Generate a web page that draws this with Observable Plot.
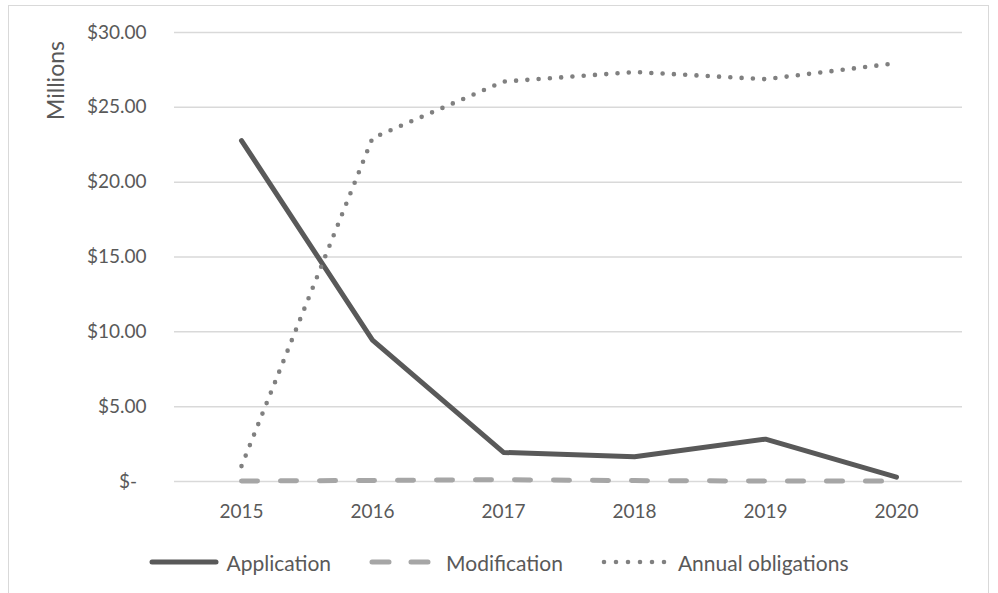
<!DOCTYPE html>
<html>
<head>
<meta charset="utf-8">
<script src="https://cdn.jsdelivr.net/npm/d3@7"></script>
<script src="https://cdn.jsdelivr.net/npm/@observablehq/plot@0.6"></script>
<style>
  html, body { margin: 0; padding: 0; background: #fff; }
  #wrap { position: relative; width: 998px; height: 593px; overflow: hidden; font-family: Lato, "Open Sans", sans-serif; }
  #frame { position: absolute; left: 8px; top: 5px; width: 981px; height: 620px; border: 1px solid #d9d9d9; box-sizing: border-box; }
  #chart { position: absolute; left: 0; top: 0; }
  #legend { position: absolute; left: 0; top: 548px; width: 998px; height: 28px; display: flex; justify-content: center; align-items: center; font-size: 21px; color: #595959; }
  .item { display: flex; align-items: center; margin: 0 19px; }
  .item svg { margin-right: 7px; }
</style>
</head>
<body>
<div id="wrap">
  <div id="frame"></div>
  <div id="chart"></div>
  <div id="legend"></div>
</div>
<script>
// Program spending by year, in millions of dollars
const years = ["2015", "2016", "2017", "2018", "2019", "2020"];
const application = [22.78, 9.45, 1.94, 1.65, 2.83, 0.29];
const modification = [0.03, 0.07, 0.12, 0.06, 0.03, 0.03];
const annualObligations = [1.03, 22.95, 26.72, 27.36, 26.88, 27.95];
const yTicks = [0, 5, 10, 15, 20, 25, 30];
const seriesNames = ["Application", "Modification", "Annual obligations"];

const rows = years.map((year, i) => ({
  year,
  application: application[i],
  modification: modification[i],
  annualObligations: annualObligations[i]
}));

const money = v => v === 0 ? "$-\u2002" : "$" + d3.format(".2f")(v);
const ink = "#595959";

const chart = Plot.plot({
  width: 998,
  height: 530,
  marginLeft: 174,
  marginRight: 36,
  marginTop: 32,
  marginBottom: 49,
  style: { fontFamily: "Lato, 'Open Sans', sans-serif", fontSize: "19px", color: ink, background: "transparent" },
  x: { type: "point", domain: years, padding: 0.5, label: null },
  y: { domain: [0, 30], label: null },
  marks: [
    Plot.gridY(yTicks, { stroke: "#d9d9d9", strokeOpacity: 1, strokeWidth: 1.5 }),
    Plot.axisY(yTicks, { tickSize: 0, tickPadding: 28, tickFormat: money, fill: ink, fontSize: 19 }),
    Plot.axisX({ tickSize: 0, tickPadding: 23, fill: ink, fontSize: 19 }),
    Plot.text(["Millions"], {
      frameAnchor: "top-left", dx: -118, dy: 48, rotate: -90,
      fontSize: 23, fill: ink, textAnchor: "middle", lineAnchor: "middle"
    }),
    Plot.line(rows, {
      x: "year", y: "application", stroke: "#595959", strokeWidth: 5,
      strokeLinejoin: "round", strokeLinecap: "round"
    }),
    Plot.line(rows, {
      x: "year", y: "modification", stroke: "#a6a6a6", strokeWidth: 5,
      strokeDasharray: "16 23", strokeLinecap: "round"
    }),
    Plot.line(rows, {
      x: "year", y: "annualObligations", stroke: "#808080", strokeWidth: 4.6,
      strokeDasharray: "0 11.3", strokeLinecap: "round"
    })
  ]
});
document.getElementById("chart").appendChild(chart);

// Legend below the plot
const swatches = [
  { stroke: "#595959", dash: null, width: 5 },
  { stroke: "#a6a6a6", dash: "17 22", width: 5 },
  { stroke: "#808080", dash: "0 12", width: 4.6 }
];
const legend = d3.select("#legend");
seriesNames.forEach((name, i) => {
  const s = swatches[i];
  const item = legend.append("div").attr("class", "item");
  const svg = item.append("svg").attr("width", 70).attr("height", 12);
  const line = svg.append("line")
    .attr("x1", 3).attr("x2", 67).attr("y1", 6).attr("y2", 6)
    .attr("stroke", s.stroke).attr("stroke-width", s.width)
    .attr("stroke-linecap", "round");
  if (s.dash) line.attr("stroke-dasharray", s.dash);
  item.append("span").text(name);
});
</script>
</body>
</html>
